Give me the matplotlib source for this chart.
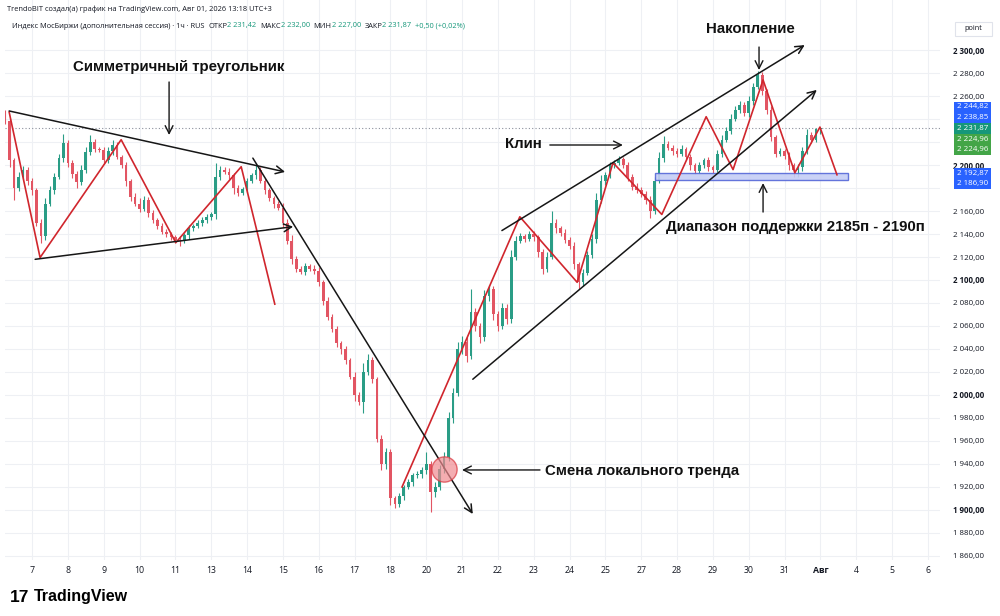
import matplotlib
matplotlib.use("Agg")
import matplotlib.pyplot as plt
from matplotlib.patches import Rectangle
from matplotlib.ticker import FuncFormatter
import matplotlib.transforms as mtransforms

plt.rcParams['font.family'] = ['Open Sans', 'DejaVu Sans']

# hourly closes, 8 candles per session day (first row = tail of the 6th)
closes = [
    2238, 2204, 2180, 2190, 2196, 2186,
    2178, 2150, 2138, 2166, 2178, 2190, 2206, 2219,
    2202, 2192, 2185, 2196, 2211, 2220, 2214, 2213,
    2204, 2212, 2217, 2207, 2200, 2186, 2172, 2166,
    2162, 2170, 2158, 2152, 2147, 2142, 2140, 2137,
    2135, 2134, 2139, 2145, 2147, 2150, 2152, 2155,
    2157, 2190, 2196, 2194, 2191, 2180, 2176, 2179,
    2186, 2191, 2196, 2186, 2178, 2171, 2166, 2163,
    2150, 2134, 2118, 2110, 2107, 2112, 2110, 2108,
    2098, 2082, 2068, 2057, 2045, 2040, 2030, 2016,
    2000, 1994, 2020, 2030, 2014, 1962, 1940, 1950,
    1910, 1905, 1912, 1920, 1924, 1930, 1931, 1935,
    1940, 1916, 1920, 1936, 1946, 1980, 2002, 2040,
    2046, 2034, 2072, 2060, 2050, 2086, 2092, 2070,
    2060, 2076, 2066, 2120, 2134, 2138, 2136, 2140,
    2137, 2124, 2110, 2120, 2150, 2145, 2141, 2135,
    2130, 2114, 2098, 2106, 2122, 2136, 2170, 2186,
    2191, 2200, 2202, 2205, 2200, 2190, 2181, 2178,
    2175, 2170, 2160, 2186, 2206, 2218, 2215, 2212,
    2210, 2214, 2207, 2200, 2195, 2200, 2204, 2198,
    2196, 2210, 2222, 2230, 2240, 2248, 2252, 2245,
    2256, 2268, 2278, 2264, 2248, 2224, 2210, 2212,
    2208, 2200, 2196, 2198, 2212, 2226, 2222, 2231.42,
    2231.87,
]
first_open = 2242
wick_up = [
    6, 3, 2, 4, 3, 2,
    3, 2, 3, 5, 4, 3, 4, 8,
    3, 2, 3, 4, 5, 6, 3, 2,
    3, 4, 5, 3, 2, 3, 2, 4,
    5, 3, 2, 3, 2, 3, 2, 2,
    2, 3, 2, 3, 2, 2, 3, 2,
    2, 12, 3, 2, 3, 2, 3, 2,
    3, 2, 4, 2, 3, 2, 2, 3,
    4, 3, 5, 3, 2, 3, 2, 3,
    3, 2, 3, 2, 3, 2, 3, 2,
    4, 3, 8, 6, 3, 2, 3, 4,
    3, 2, 3, 2, 3, 2, 3, 2,
    10, 3, 4, 3, 4, 5, 4, 6,
    5, 4, 20, 4, 3, 5, 4, 3,
    3, 4, 3, 6, 4, 3, 2, 3,
    3, 2, 3, 4, 10, 3, 2, 3,
    2, 3, 2, 4, 3, 4, 6, 5,
    3, 3, 2, 3, 2, 3, 2, 3,
    3, 2, 3, 4, 5, 7, 3, 2,
    3, 3, 2, 3, 2, 3, 2, 3,
    2, 3, 4, 3, 4, 3, 4, 3,
    4, 3, 4, 3, 2, 3, 2, 3,
    2, 3, 2, 3, 4, 5, 3, 1,
    0.13,
]
wick_dn = [
    2, 6, 10, 3, 2, 3,
    4, 3, 6, 3, 2, 3, 2, 3,
    4, 3, 5, 2, 3, 2, 3, 2,
    3, 2, 3, 2, 3, 4, 3, 2,
    3, 2, 3, 2, 3, 2, 3, 2,
    3, 4, 2, 3, 2, 2, 3, 2,
    3, 4, 3, 2, 3, 5, 3, 2,
    3, 2, 3, 2, 3, 2, 3, 2,
    4, 3, 4, 3, 2, 3, 2, 3,
    3, 4, 3, 2, 3, 4, 3, 2,
    5, 3, 10, 3, 4, 3, 5, 4,
    6, 3, 2, 3, 2, 3, 2, 3,
    4, 18, 5, 3, 4, 3, 4, 3,
    4, 5, 3, 4, 5, 3, 4, 5,
    4, 3, 4, 3, 3, 2, 3, 2,
    3, 4, 5, 3, 2, 4, 3, 3,
    3, 4, 6, 3, 2, 3, 4, 3,
    3, 2, 3, 2, 3, 4, 3, 2,
    3, 4, 6, 3, 2, 3, 2, 3,
    3, 2, 3, 4, 3, 2, 3, 3,
    3, 2, 3, 2, 3, 2, 3, 2,
    3, 4, 2, 3, 4, 3, 3, 2,
    3, 4, 6, 6, 3, 2, 3, 2,
    4.87,
]
day_labels = ['7', '8', '9', '10', '11', '13', '14', '15', '16', '17', '18', '20',
              '21', '22', '23', '24', '25', '27', '28', '29', '30', '31', 'Авг',
              '4', '5', '6']
price_ticks = list(range(1860, 2301, 20))
hidden_ticks = [2180, 2220, 2240]   # covered by the price labels on the scale

# drawings on the chart, as (bar, price)
tri_zigzag = [(0.9, 2246), (7.8, 2119.5), (25.9, 2222), (38.1, 2132.5), (52.7, 2198.5), (60.2, 2079)]
tri_upper = [(0.9, 2247), (62.5, 2194)]
tri_lower = [(6.7, 2118), (64.3, 2146.4)]
down_trend = [(55.3, 2206), (104.4, 1896.5)]
wedge_upper = [(110.9, 2143), (178.5, 2304.3)]
wedge_lower = [(104.4, 2013.7), (181.2, 2265.3)]
wedge_zigzag = [(88.6, 1920), (114.9, 2155), (127.7, 2098), (135.7, 2202), (146.6, 2157),
                (156.5, 2242), (162.5, 2196), (169.2, 2274), (176.3, 2193.3), (181.9, 2233),
                (185.7, 2191.5)]
support_low, support_high = 2186.90, 2192.87
support_span = (145.1, 188.1)
trend_change = (98.0, 1935.6)
last_price = 2231.87

notes = [
    # text, text pos, arrow start, arrow end, ha
    ('Симметричный треугольник', (38.7, 2285.2), (36.6, 2272.2), (36.6, 2226.1), 'center'),
    ('Накопление', (166.3, 2318.3), (168.3, 2302.6), (168.3, 2282.6), 'center'),
    ('Клин', (115.6, 2218.3), (121.6, 2217.4), (137.9, 2217.4), 'center'),
    ('Диапазон поддержки 2185п - 2190п', (176.5, 2146.1), (169.2, 2159.1), (169.2, 2184.3), 'center'),
    ('Смена локального тренда', (120.5, 1933.9), (119.4, 1934.8), (102.0, 1934.8), 'left'),
]

marker_prices = [2244.82, 2238.85, 2231.87, 2224.96, 2224.96, 2192.87, 2186.90]
marker_colors = ['#2962ff', '#2962ff', '#16977a', '#43a547', '#43a547', '#2962ff', '#2962ff']

UP, DOWN = '#2a9d86', '#e25563'
GRID = '#eef0f4'
TXT = '#131722'
BOLD = ['Liberation Sans', 'DejaVu Sans']


def fmt_price(v):
    return f"{v:,.2f}".replace(',', ' ').replace('.', ',')


fig = plt.figure(figsize=(10, 6.16), dpi=100)
ax = fig.add_axes([0.005, 56 / 616, 0.935, 560 / 616])

# candles
opens = [first_open] + closes[:-1]
for i, (o, c, wu, wd) in enumerate(zip(opens, closes, wick_up, wick_dn)):
    col = UP if c >= o else DOWN
    ax.vlines(i, min(o, c) - wd, max(o, c) + wu, color=col, lw=0.8, zorder=3)
    ax.bar(i, max(abs(c - o), 0.6), bottom=min(o, c), width=0.6, color=col, lw=0, zorder=3)

ax.set_xlim(-0.03, 208.7)
ax.set_ylim(1856.5, 2343.5)

# grid
day_pos = [6 + 8 * k for k in range(len(day_labels))]
for xp in day_pos:
    ax.axvline(xp, color=GRID, lw=0.8, zorder=0)
for yp in price_ticks:
    ax.axhline(yp, color=GRID, lw=0.8, zorder=0)

ax.axhline(last_price, color='#8a8f9c', lw=0.8, ls=(0, (1, 2)), zorder=2)

# axes style
for s in ax.spines.values():
    s.set_visible(False)
ax.set_xticks(day_pos)
ax.set_xticklabels(day_labels)
for lab in ax.get_xticklabels():
    if lab.get_text() == 'Авг':
        lab.set_fontweight('bold')
ax.tick_params(axis='x', length=0, pad=4, labelsize=6.3, labelcolor=TXT)
ax.yaxis.tick_right()
ax.set_yticks(price_ticks)
ax.yaxis.set_major_formatter(FuncFormatter(
    lambda v, p: '' if int(round(v)) in hidden_ticks else fmt_price(v)))
ax.tick_params(axis='y', length=0, pad=9, labelsize=5.7, labelcolor=TXT)
for lab, v in zip(ax.get_yticklabels(), price_ticks):
    if v % 100 == 0:
        lab.set_fontweight('bold')

# support band
ax.add_patch(Rectangle((support_span[0], support_low), support_span[1] - support_span[0],
                       support_high - support_low, facecolor='#c5cdf5', edgecolor='#5567d8',
                       lw=1.0, alpha=0.9, zorder=4))

# pattern lines
zz_col = '#d0262d'
ax.plot(*zip(*tri_zigzag), color=zz_col, lw=1.2, zorder=5)
ax.plot(*zip(*wedge_zigzag), color=zz_col, lw=1.2, zorder=5)
for seg in (tri_upper, tri_lower, down_trend, wedge_upper, wedge_lower):
    ax.annotate('', xy=seg[1], xytext=seg[0],
                arrowprops=dict(arrowstyle='->', color='#161616', lw=1.1, mutation_scale=14,
                                shrinkA=0, shrinkB=0), zorder=6)

ax.scatter([trend_change[0]], [trend_change[1]], s=330, facecolor='#f08a90', edgecolor='#d9363e',
           alpha=0.7, lw=1.0, zorder=7)

for text, tpos, a0, a1, ha in notes:
    ax.text(tpos[0], tpos[1], text, ha=ha, va='center', fontsize=10.8, fontweight='bold',
            family=BOLD, color='#111111', zorder=8)
    ax.annotate('', xy=a1, xytext=a0,
                arrowprops=dict(arrowstyle='->', color='#161616', lw=1.0, mutation_scale=14,
                                shrinkA=0, shrinkB=0), zorder=8)

# price labels on the scale, stacked like TradingView does:
# the last-price label (or the first of a group) stays at its price, others are pushed aside
step = 10.7 / 1.15
groups = [[0]]
for i in range(1, len(marker_prices)):
    if marker_prices[groups[-1][-1]] - marker_prices[i] < step:
        groups[-1].append(i)
    else:
        groups.append([i])
trans = mtransforms.blended_transform_factory(fig.transFigure, ax.transData)
for g in groups:
    anchor = next((k for k, i in enumerate(g) if marker_prices[i] == last_price), 0)
    base = marker_prices[g[anchor]]
    for k, i in enumerate(g):
        yc = base + (anchor - k) * step
        ax.add_patch(Rectangle((0.954, yc - step / 2), 0.037, step, transform=trans,
                               facecolor=marker_colors[i], lw=0, clip_on=False, zorder=9))
        ax.text(0.9725, yc, fmt_price(marker_prices[i]), transform=trans, ha='center',
                va='center', fontsize=5.7, color='white', clip_on=False, zorder=10)

# 'point' box
fig.patches.append(Rectangle((0.955, 1 - 36 / 616), 0.037, 14 / 616, transform=fig.transFigure,
                             facecolor='white', edgecolor='#e0e3eb', lw=0.8))
fig.text(0.9735, 1 - 29 / 616, 'point', ha='center', va='center', fontsize=5.3, color=TXT)

# header
fig.text(0.007, 1 - 9 / 616, 'TrendoBIT создал(а) график на TradingView.com, Авг 01, 2026 13:18 UTC+3',
         fontsize=5.4, color=TXT, va='center')
pieces = [('Индекс МосБиржи (дополнительная сессия) · 1ч · RUS  ', TXT),
          ('ОТКР', TXT), ('2 231,42  ', '#16977a'),
          ('МАКС', TXT), ('2 232,00  ', '#16977a'),
          ('МИН', TXT), ('2 227,00  ', '#16977a'),
          ('ЗАКР', TXT), ('2 231,87  ', '#16977a'),
          ('+0,50 (+0,02%)', '#16977a')]
prev = fig.text(0.012, 1 - 26 / 616, pieces[0][0], fontsize=5.3, color=pieces[0][1], va='center')
for txt, col in pieces[1:]:
    prev = ax.annotate(txt, xy=(1, 0), xycoords=prev, va='bottom', ha='left', fontsize=5.3,
                       color=col, annotation_clip=False)

# footer logo
fig.text(0.010, 1 - 597 / 616, '17', fontsize=12.5, fontweight='bold', color='black', va='center',
         family=BOLD)
fig.text(0.034, 1 - 597 / 616, 'TradingView', fontsize=11.5, fontweight='bold', color='black',
         va='center', family=BOLD)

fig.savefig('out.png', dpi=100, facecolor='white')
